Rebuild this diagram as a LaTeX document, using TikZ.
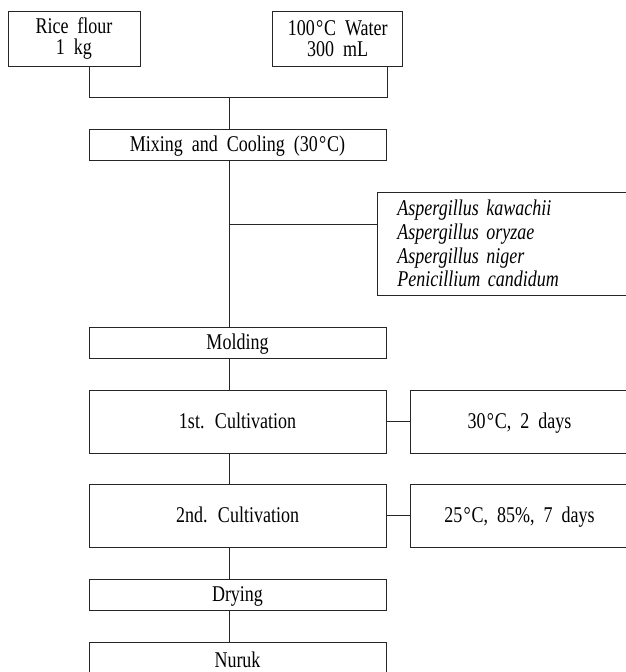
\documentclass[tikz,border=0pt]{standalone}
\usepackage{fontspec}
\setmainfont{Liberation Serif}[FakeStretch=0.8,WordSpace=2]
\newcommand{\degc}{{\kern1.2pt°\kern0.8pt C}}
\usepackage{tikz}

\begin{document}
\begin{tikzpicture}[x=1pt, y=-1pt,
    every node/.style={font=\fontsize{22.5}{21}\selectfont},
    box/.style={draw=black!85, line width=0.9pt, inner sep=0pt, align=center},
    stage/.style={box, minimum width=297pt, text height=14.6pt, text depth=0pt},
    cond/.style={box, minimum width=219pt, minimum height=63pt, text height=14.6pt, text depth=0pt},
    link/.style={draw=black!85, line width=0.9pt}]
    \useasboundingbox (0,0) rectangle (626,672);
    \clip (0,0) rectangle (626,672);

    % Raw materials
    \node[box, minimum width=132pt, minimum height=55pt] (rice) at (74,39) {Rice flour\\1 kg};
    \node[box, minimum width=130pt, minimum height=55pt] (water) at (337.7,39) {100\degc\ Water\\300 mL};

    % Junction points on the main line
    \coordinate (jl) at (89,97);
    \coordinate (jr) at (387.7,97);
    \coordinate (jc) at (229,97);
    \coordinate (br) at (229,224);

    % Process steps
    \node[stage, minimum height=31pt] (mix) at (237.5,144.5) {Mixing and Cooling (30\degc)};
    \node[box, anchor=west, text width=212pt, inner xsep=20pt, minimum height=103pt, align=left,
      font=\fontsize{22.5}{23.8}\selectfont\itshape] (strains) at (377,243.5)
      {Aspergillus kawachii\\Aspergillus oryzae\\Aspergillus niger\\Penicillium candidum};
    \node[stage, minimum height=31pt] (mold) at (237.5,342.5) {Molding};
    \node[stage, minimum height=63pt] (cult1) at (237.5,421.5) {1st. Cultivation};
    \node[cond] (temp1) at (519.5,421.5) {30\degc, 2 days};
    \node[stage, minimum height=63pt] (cult2) at (237.5,515.5) {2nd. Cultivation};
    \node[cond] (temp2) at (519.5,515.5) {25\degc, 85\%, 7 days};
    \node[stage, minimum height=31pt] (dry) at (237.5,594.5) {Drying};
    \node[stage, minimum height=36pt] (nuruk) at (237.5,660) {Nuruk};

    % Connectors
    \draw[link] (rice.south -| jl) -- (jl) -- (jr) -- (water.south -| jr);
    \draw[link] (jc) -- (mix.north -| jc);
    \draw[link] (mix.south -| jc) -- (mold.north -| jc);
    \draw[link] (br) -- (br -| strains.west);
    \draw[link] (mold.south -| jc) -- (cult1.north -| jc);
    \draw[link] (cult1.south -| jc) -- (cult2.north -| jc);
    \draw[link] (cult2.south -| jc) -- (dry.north -| jc);
    \draw[link] (dry.south -| jc) -- (nuruk.north -| jc);
    \draw[link] (cult1.east) -- (temp1.west);
    \draw[link] (cult2.east) -- (temp2.west);
\end{tikzpicture}
\end{document}
